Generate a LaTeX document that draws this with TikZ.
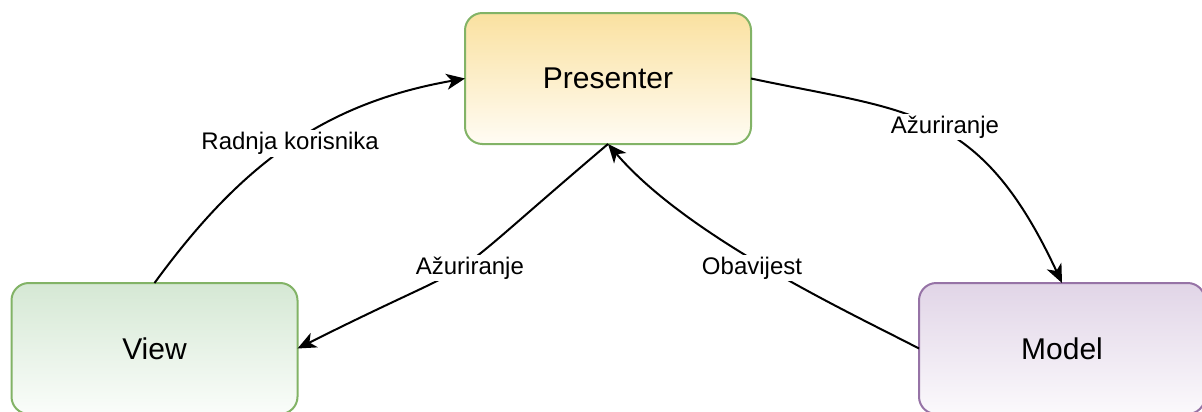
\documentclass[tikz,border=0pt]{standalone}
\usepackage{fontspec}
\setmainfont{Liberation Sans}
\usetikzlibrary{arrows.meta}
\definecolor{gstroke}{HTML}{82B366}
\definecolor{pstroke}{HTML}{9673A6}
\definecolor{ytop}{RGB}{250,225,160}
\definecolor{ybot}{RGB}{255,252,244}
\definecolor{gtop}{HTML}{D5E8D4}
\definecolor{gbot}{RGB}{250,253,250}
\definecolor{ptop}{HTML}{E1D5E7}
\definecolor{pbot}{RGB}{251,249,252}
\tikzset{
  box/.style={rectangle, rounded corners=13pt, line width=1.5pt,
    minimum width=214.5pt, minimum height=98.25pt, inner sep=0pt, outer sep=0pt,
    font=\fontsize{22.5}{27}\selectfont},
  conn/.style={line width=1.5pt, -{Stealth[length=14pt, width=12pt, inset=4pt]}},
  lbl/.style={fill=white, inner sep=1.5pt, font=\fontsize{18}{21}\selectfont}
}
\begin{document}
\begin{tikzpicture}[x={(0.75pt,0)}, y={(0,-0.75pt)}]
\useasboundingbox (0,0) rectangle (1202,411);
\node[box, draw=gstroke, top color=ytop, bottom color=ybot] (pres) at (608,78.5) {Presenter};
\node[box, draw=gstroke, top color=gtop, bottom color=gbot] (view) at (154.5,348.5) {View};
\node[box, draw=pstroke, top color=ptop, bottom color=pbot] (model) at (1062,348.5) {Model};

\draw[conn] (view.north) .. controls (240,166) and (322,103.5) .. (pres.west)
  node[lbl, pos=0.5, xshift=1.5pt, yshift=2pt] {Radnja korisnika};
\draw[conn] (pres.east) .. controls (909.6,112.2) and (979.3,106) .. (model.north)
  node[lbl, pos=0.5, xshift=7.5pt] {Ažuriranje};
\draw[conn] (pres.south) .. controls (415,308) and (509.5,242.5) .. (view.east)
  node[lbl, pos=0.5, xshift=7.5pt] {Ažuriranje};
\draw[conn] (model.west) .. controls (851.1,313.2) and (687.9,237.4) .. (pres.south)
  node[lbl, pos=0.5, xshift=-12pt] {Obavijest};
\end{tikzpicture}
\end{document}
